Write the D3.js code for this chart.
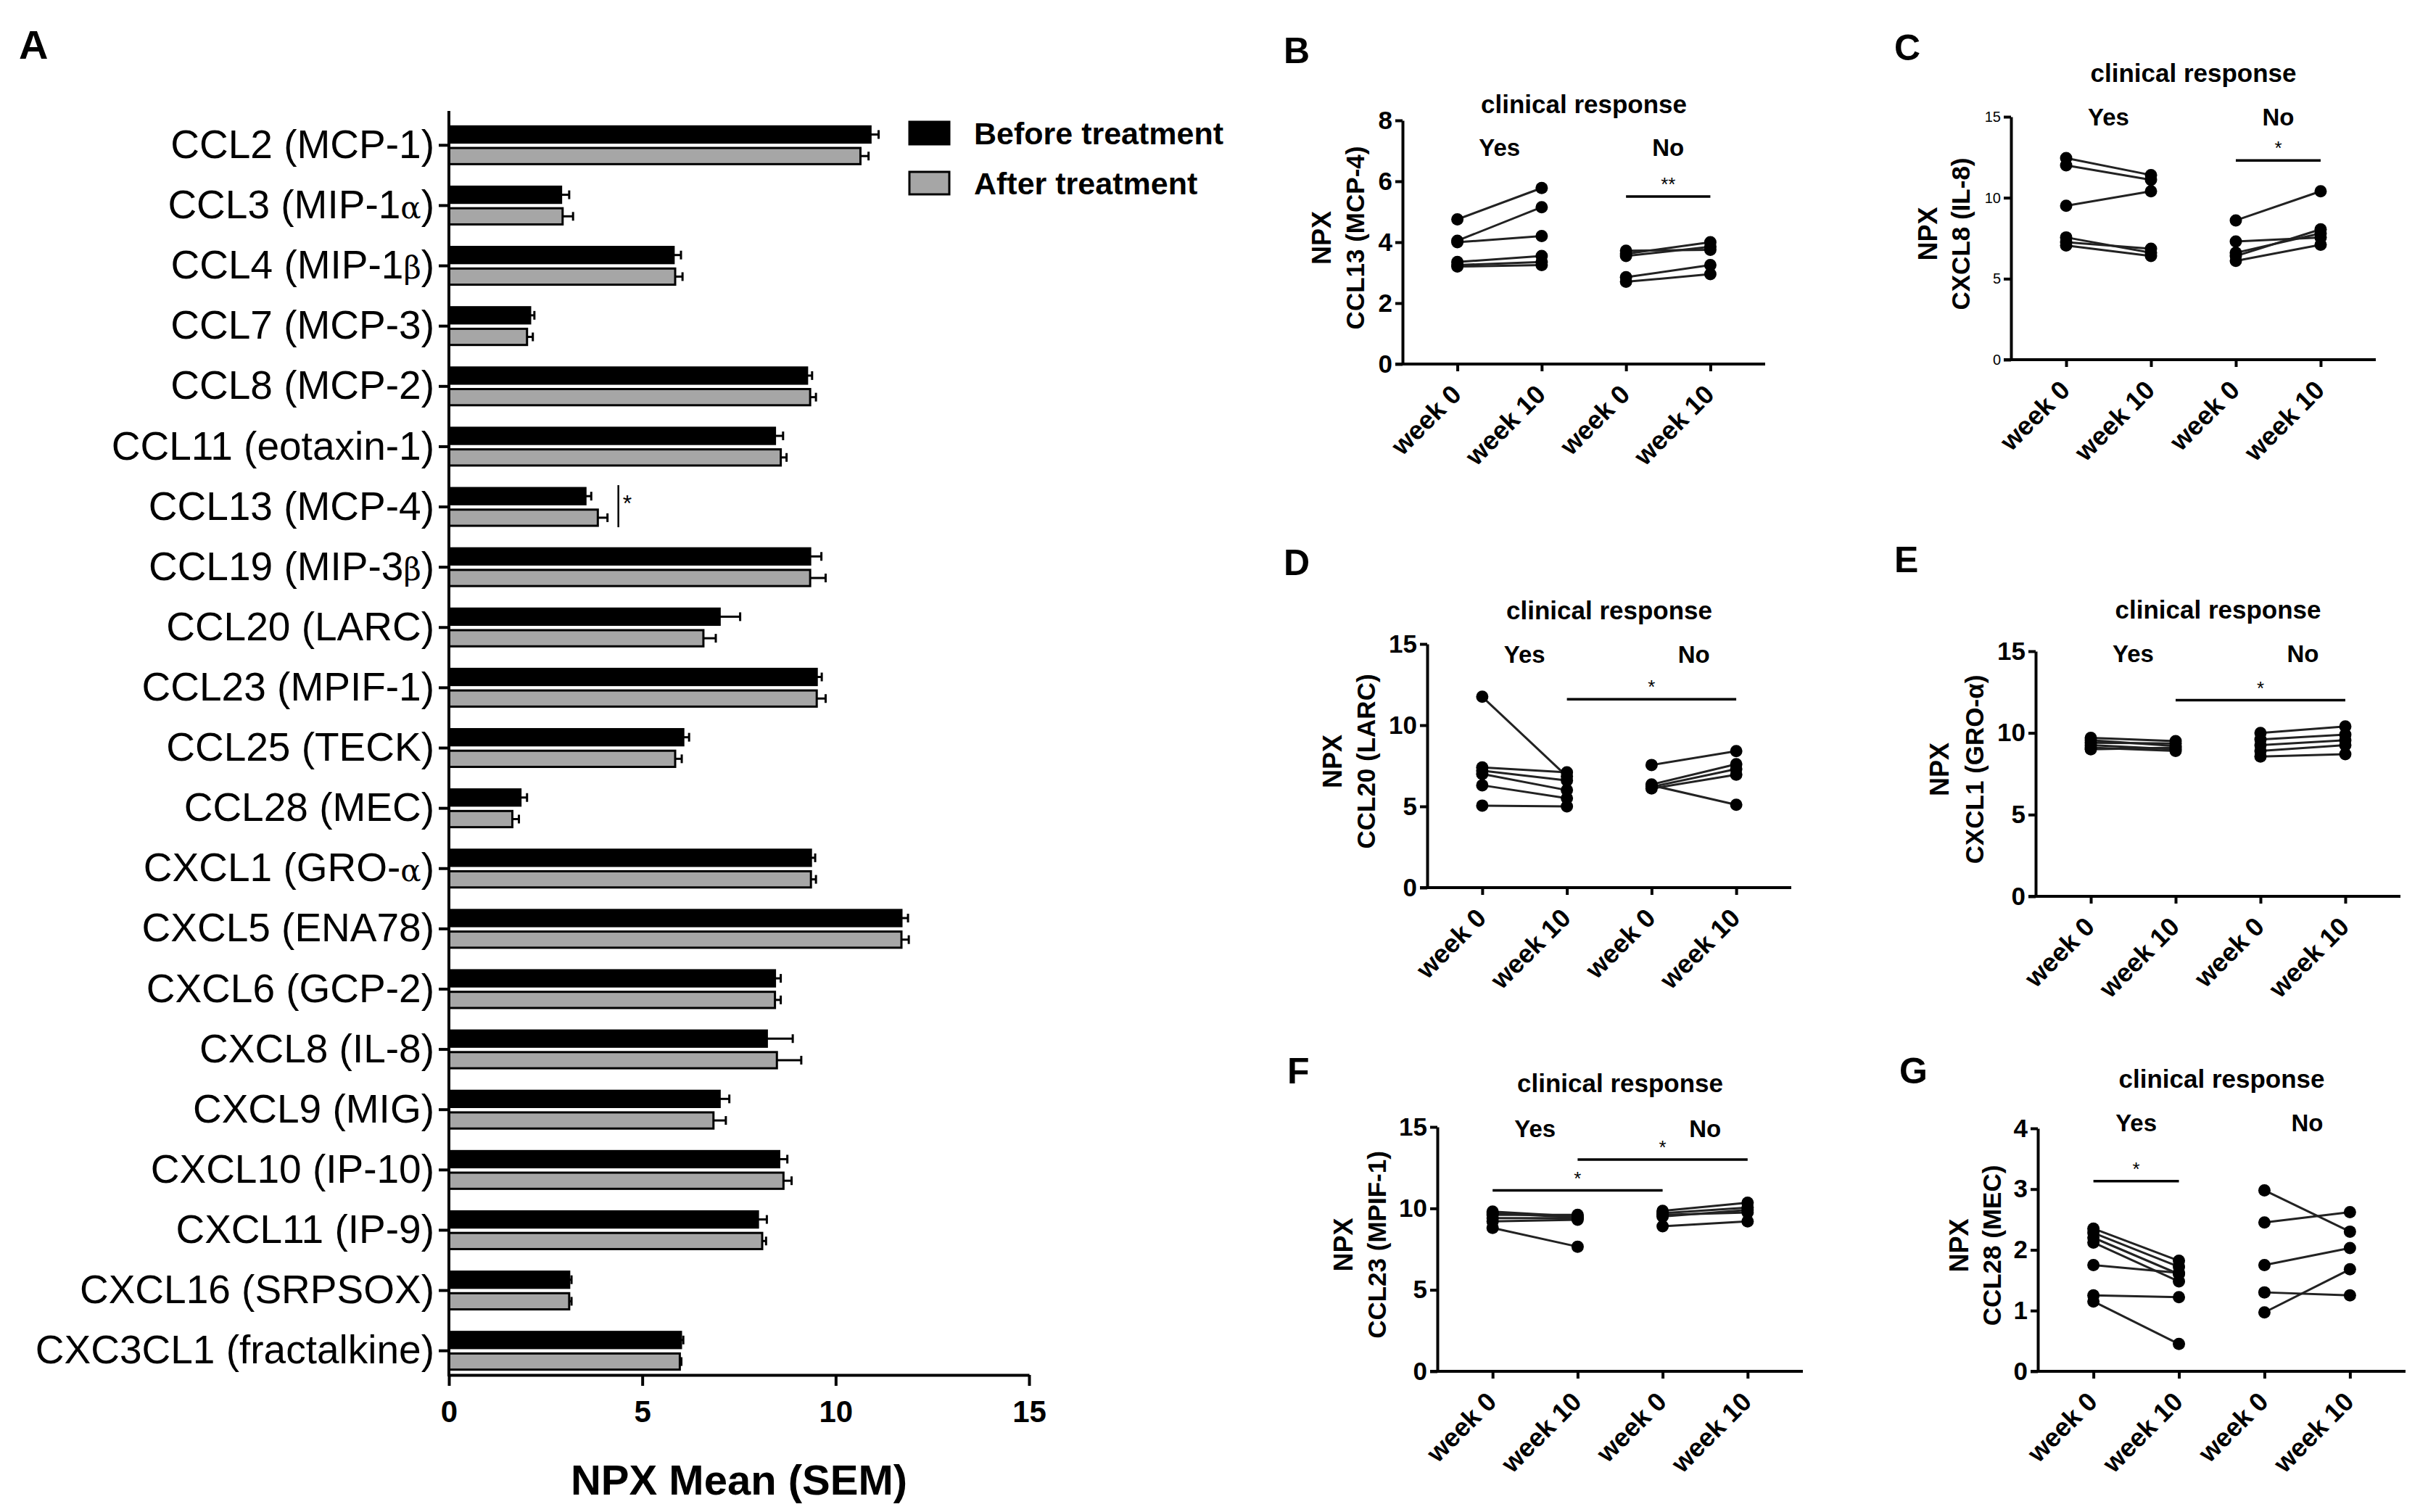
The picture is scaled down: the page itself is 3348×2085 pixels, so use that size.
<!DOCTYPE html>
<html>
<head>
<meta charset="utf-8">
<script src="https://cdnjs.cloudflare.com/ajax/libs/d3/7.8.5/d3.min.js"></script>
<style>
  body { margin: 0; background: #fff; }
  svg { display: block; font-family: "Liberation Sans", Arial, sans-serif; }
</style>
</head>
<body>
<svg id="fig" width="3348" height="2085"></svg>
<script>
// panel A: NPX mean (SEM) before / after treatment
const cytokines = [
    "CCL2 (MCP-1)", "CCL3 (MIP-1α)", "CCL4 (MIP-1β)", "CCL7 (MCP-3)", "CCL8 (MCP-2)",
    "CCL11 (eotaxin-1)", "CCL13 (MCP-4)", "CCL19 (MIP-3β)", "CCL20 (LARC)", "CCL23 (MPIF-1)",
    "CCL25 (TECK)", "CCL28 (MEC)", "CXCL1 (GRO-α)", "CXCL5 (ENA78)", "CXCL6 (GCP-2)",
    "CXCL8 (IL-8)", "CXCL9 (MIG)", "CXCL10 (IP-10)", "CXCL11 (IP-9)", "CXCL16 (SRPSOX)",
    "CXC3CL1 (fractalkine)"
];
const beforeMean = [10.90, 2.90, 5.81, 2.10, 9.26, 8.43, 3.53, 9.34, 7.00, 9.51, 6.06, 1.85, 9.36, 11.70, 8.43, 8.22, 7.00, 8.54, 7.99, 3.11, 6.00];
const beforeSem  = [0.21, 0.21, 0.19, 0.11, 0.13, 0.21, 0.15, 0.29, 0.53, 0.13, 0.15, 0.17, 0.11, 0.17, 0.15, 0.67, 0.25, 0.21, 0.23, 0.06, 0.06];
const afterMean  = [10.64, 2.94, 5.85, 2.02, 9.34, 8.58, 3.85, 9.34, 6.58, 9.51, 5.85, 1.64, 9.36, 11.70, 8.43, 8.48, 6.84, 8.65, 8.10, 3.11, 5.97];
const afterSem   = [0.21, 0.27, 0.19, 0.15, 0.15, 0.15, 0.25, 0.40, 0.32, 0.23, 0.17, 0.17, 0.13, 0.19, 0.15, 0.63, 0.32, 0.21, 0.10, 0.06, 0.04];
const npxTicks = [0, 5, 10, 15];
const legendLabels = ["Before treatment", "After treatment"];
const significantA = ["CCL13 (MCP-4)"];

// panels B-G: paired values, week 0 -> week 10, per clinical response group
const weekLabels = ["week 0", "week 10", "week 0", "week 10"];
const responseGroups = ["Yes", "No"];

const ccl13YesW0  = [4.75, 4.05, 4.00, 3.35, 3.25, 3.20];
const ccl13YesW10 = [5.78, 5.15, 4.20, 3.55, 3.35, 3.25];
const ccl13NoW0   = [3.72, 3.62, 3.55, 2.85, 2.70];
const ccl13NoW10  = [3.75, 4.00, 3.85, 3.25, 2.95];
const ccl13Sig    = [[2, 3, 5.5, "**"]];

const cxcl8YesW0  = [12.45, 12.00, 9.50, 7.55, 7.25, 7.05];
const cxcl8YesW10 = [11.40, 11.10, 10.40, 6.60, 6.85, 6.40];
const cxcl8NoW0   = [8.60, 7.30, 6.60, 6.40, 6.10];
const cxcl8NoW10  = [10.40, 7.55, 7.80, 8.05, 7.10];
const cxcl8Sig    = [[2, 3, 12.3, "*"]];

const ccl20YesW0  = [11.75, 7.40, 7.20, 7.00, 6.30, 5.05];
const ccl20YesW10 = [6.85, 7.10, 6.60, 6.00, 5.50, 5.00];
const ccl20NoW0   = [7.55, 6.35, 6.20, 6.10, 6.30];
const ccl20NoW10  = [8.40, 7.60, 7.30, 6.95, 5.10];
const ccl20Sig    = [[1, 3, 11.6, "*"]];

const cxcl1YesW0  = [9.70, 9.55, 9.40, 9.25, 9.10, 9.00];
const cxcl1YesW10 = [9.50, 9.20, 9.35, 9.00, 8.90, 9.10];
const cxcl1NoW0   = [10.00, 9.60, 9.25, 8.90, 8.55];
const cxcl1NoW10  = [10.40, 9.90, 9.55, 9.25, 8.70];
const cxcl1Sig    = [[1, 3, 12.0, "*"]];

const ccl23YesW0  = [9.80, 9.70, 9.60, 9.40, 9.20, 8.80];
const ccl23YesW10 = [9.50, 9.45, 9.60, 9.40, 9.30, 7.65];
const ccl23NoW0   = [9.85, 9.70, 9.60, 9.50, 8.90];
const ccl23NoW10  = [10.35, 10.05, 9.75, 9.90, 9.20];
const ccl23Sig    = [[0, 2, 11.1, "*"], [1, 3, 13.0, "*"]];

const ccl28YesW0  = [2.35, 2.28, 2.20, 2.12, 1.75, 1.25, 1.15];
const ccl28YesW10 = [1.82, 1.72, 1.60, 1.48, 1.62, 1.22, 0.45];
const ccl28NoW0   = [2.98, 2.45, 1.75, 1.30, 0.97];
const ccl28NoW10  = [2.30, 2.62, 2.03, 1.25, 1.68];
const ccl28Sig    = [[0, 1, 3.13, "*"]];

const svg = d3.select('#fig');
svg.append('rect').attr('width', 3348).attr('height', 2085).attr('fill', '#fff');

// ---------- panel A ----------
const a = { left: 619, right: 1419, top: 153, bottom: 1896 };

const xA = d3.scaleLinear().domain([0, 15]).range([a.left, a.right]);
const yA = d3.scaleBand().domain(cytokines).range([166, 1897]).paddingInner(0.374).paddingOuter(0.1);
const ySub = d3.scaleBand().domain(['before', 'after']).range([0, yA.bandwidth()]).paddingInner(0.25);

const rows = cytokines.map((c, i) => ({
    name: c,
    series: [
        { key: 'before', mean: beforeMean[i], sem: beforeSem[i] },
        { key: 'after', mean: afterMean[i], sem: afterSem[i] }
    ]
}));

const fillOf = { before: '#000', after: '#a6a6a6' };

const rowG = svg.append('g').selectAll('g')
    .data(rows)
    .enter()
    .append('g')
    .attr('transform', d => `translate(0,${yA(d.name)})`);

const barG = rowG.selectAll('g')
    .data(d => d.series)
    .enter()
    .append('g');

barG.append('line')
    .attr('x1', d => xA(d.mean))
    .attr('x2', d => xA(d.mean + d.sem))
    .attr('y1', d => ySub(d.key) + ySub.bandwidth() / 2)
    .attr('y2', d => ySub(d.key) + ySub.bandwidth() / 2)
    .attr('stroke', '#000')
    .attr('stroke-width', 3);

barG.append('line')
    .attr('x1', d => xA(d.mean + d.sem))
    .attr('x2', d => xA(d.mean + d.sem))
    .attr('y1', d => ySub(d.key) + ySub.bandwidth() / 2 - 6)
    .attr('y2', d => ySub(d.key) + ySub.bandwidth() / 2 + 6)
    .attr('stroke', '#000')
    .attr('stroke-width', 3);

barG.append('rect')
    .attr('x', xA(0))
    .attr('y', d => ySub(d.key))
    .attr('width', d => xA(d.mean) - xA(0))
    .attr('height', ySub.bandwidth())
    .attr('fill', d => fillOf[d.key])
    .attr('stroke', '#000')
    .attr('stroke-width', 3);

// significance mark for CCL13
rows.filter(r => significantA.includes(r.name)).forEach(r => {
    const xs = xA(d3.max(r.series, s => s.mean + s.sem)) + 15;
    const y0 = yA(r.name);
    svg.append('line')
        .attr('x1', xs).attr('x2', xs)
        .attr('y1', y0 - 4).attr('y2', y0 + yA.bandwidth() + 2)
        .attr('stroke', '#000').attr('stroke-width', 2.5);
    svg.append('text')
        .attr('x', xs + 6).attr('y', y0 + yA.bandwidth() / 2 + 6)
        .attr('font-size', 32)
        .text('*');
});

// y axis A
const yAxisA = svg.append('g')
    .attr('transform', `translate(${a.left},0)`)
    .call(d3.axisLeft(yA).tickSize(14).tickPadding(6));
yAxisA.select('.domain').remove();
yAxisA.attr('font-family', null).attr('font-size', 55);
yAxisA.selectAll('.tick line').attr('stroke-width', 4);
yAxisA.selectAll('.tick text')
    .attr('fill', '#000')
    .each(function(d) {
        const t = d3.select(this).text('');
        d.split(/([αβ])/).filter(s => s).forEach(part => {
            const sp = t.append('tspan').text(part);
            if (/[αβ]/.test(part)) sp.attr('font-family', 'DejaVu Serif').attr('font-size', 42);
        });
    });

svg.append('line')
    .attr('x1', a.left).attr('x2', a.left)
    .attr('y1', a.top).attr('y2', a.bottom + 2)
    .attr('stroke', '#000').attr('stroke-width', 4);

// x axis A
const xAxisA = svg.append('g')
    .attr('transform', `translate(0,${a.bottom})`)
    .call(d3.axisBottom(xA).tickValues(npxTicks).tickSize(15).tickPadding(20).tickSizeOuter(0));
xAxisA.attr('font-family', null).attr('font-size', 42).attr('font-weight', 'bold');
xAxisA.selectAll('.domain, .tick line').attr('stroke-width', 4);
xAxisA.selectAll('.tick text').attr('fill', '#000');

svg.append('text')
    .attr('x', (a.left + a.right) / 2)
    .attr('y', 2061)
    .attr('text-anchor', 'middle')
    .attr('font-size', 58)
    .attr('font-weight', 'bold')
    .text('NPX Mean (SEM)');

// legend
const legend = svg.append('g').attr('transform', 'translate(1254,168)');
legendLabels.forEach((lab, i) => {
    legend.append('rect')
        .attr('x', 0).attr('y', i * 69)
        .attr('width', 55).attr('height', 31)
        .attr('fill', i === 0 ? fillOf.before : fillOf.after)
        .attr('stroke', '#000').attr('stroke-width', 3);
    legend.append('text')
        .attr('x', 89).attr('y', i * 69 + 16)
        .attr('dominant-baseline', 'central')
        .attr('font-size', 43)
        .attr('font-weight', 'bold')
        .text(lab);
});

svg.append('text')
    .attr('x', 26).attr('y', 81)
    .attr('font-size', 56).attr('font-weight', 'bold')
    .text('A');

// ---------- panels B-G ----------
const panels = [
    { letter: 'B', name: 'CCL13 (MCP-4)', yesW0: ccl13YesW0, yesW10: ccl13YesW10, noW0: ccl13NoW0, noW10: ccl13NoW10, sig: ccl13Sig,
      yMax: 8, yTicks: [0, 2, 4, 6, 8], left: 1934, right: 2434, top: 166, bottom: 502,
      titleY: 143, groupY: 203, letterX: 1770, letterY: 70, npxOff: 112, nameOff: 66, tickFont: 35, tickWeight: 'bold' },
    { letter: 'C', name: 'CXCL8 (IL-8)', yesW0: cxcl8YesW0, yesW10: cxcl8YesW10, noW0: cxcl8NoW0, noW10: cxcl8NoW10, sig: cxcl8Sig,
      yMax: 15, yTicks: [0, 5, 10, 15], left: 2773, right: 3276, top: 161, bottom: 496,
      titleY: 100, groupY: 161, letterX: 2612, letterY: 66, npxOff: 115, nameOff: 70, tickFont: 20, tickWeight: 'normal' },
    { letter: 'D', name: 'CCL20 (LARC)', yesW0: ccl20YesW0, yesW10: ccl20YesW10, noW0: ccl20NoW0, noW10: ccl20NoW10, sig: ccl20Sig,
      yMax: 15, yTicks: [0, 5, 10, 15], left: 1968, right: 2470, top: 888, bottom: 1224,
      titleY: 841, groupY: 902, letterX: 1770, letterY: 776, npxOff: 131, nameOff: 85, tickFont: 35, tickWeight: 'bold' },
    { letter: 'E', name: 'CXCL1 (GRO-α)', yesW0: cxcl1YesW0, yesW10: cxcl1YesW10, noW0: cxcl1NoW0, noW10: cxcl1NoW10, sig: cxcl1Sig,
      yMax: 15, yTicks: [0, 5, 10, 15], left: 2807, right: 3310, top: 898, bottom: 1236,
      titleY: 840, groupY: 901, letterX: 2612, letterY: 772, npxOff: 133, nameOff: 85, tickFont: 35, tickWeight: 'bold' },
    { letter: 'F', name: 'CCL23 (MPIF-1)', yesW0: ccl23YesW0, yesW10: ccl23YesW10, noW0: ccl23NoW0, noW10: ccl23NoW10, sig: ccl23Sig,
      yMax: 15, yTicks: [0, 5, 10, 15], left: 1982, right: 2486, top: 1554, bottom: 1891,
      titleY: 1493, groupY: 1556, letterX: 1775, letterY: 1477, npxOff: 130, nameOff: 84, tickFont: 35, tickWeight: 'bold' },
    { letter: 'G', name: 'CCL28 (MEC)', yesW0: ccl28YesW0, yesW10: ccl28YesW10, noW0: ccl28NoW0, noW10: ccl28NoW10, sig: ccl28Sig,
      yMax: 4, yTicks: [0, 1, 2, 3, 4], left: 2810, right: 3317, top: 1556, bottom: 1891,
      titleY: 1487, groupY: 1548, letterX: 2619, letterY: 1477, npxOff: 109, nameOff: 64, tickFont: 35, tickWeight: 'bold' }
];

function drawPanel(p) {
    const g = svg.append('g');
    const x = d3.scalePoint().domain(d3.range(weekLabels.length)).range([p.left, p.right]).padding(0.65);
    const y = d3.scaleLinear().domain([0, p.yMax]).range([p.bottom, p.top]);

    // y axis
    const yAx = g.append('g')
        .attr('transform', `translate(${p.left},0)`)
        .call(d3.axisLeft(y).tickValues(p.yTicks).tickFormat(d3.format('d'))
            .tickSize(10).tickPadding(4).tickSizeOuter(0));
    yAx.attr('font-family', null).attr('font-size', p.tickFont).attr('font-weight', p.tickWeight);
    yAx.selectAll('.domain, .tick line').attr('stroke-width', 4);
    yAx.selectAll('.tick text').attr('fill', '#000');

    // x axis
    const xAx = g.append('g')
        .attr('transform', `translate(0,${p.bottom})`)
        .call(d3.axisBottom(x).tickSize(10).tickSizeOuter(0).tickFormat(i => weekLabels[i]));
    xAx.select('.domain').remove();
    xAx.attr('font-family', null).attr('font-size', 36).attr('font-weight', 'bold');
    xAx.selectAll('.tick line').attr('stroke-width', 4);
    xAx.selectAll('.tick text')
        .attr('fill', '#000')
        .attr('text-anchor', 'end')
        .attr('x', 7).attr('y', 44).attr('dy', 0)
        .attr('transform', 'rotate(-45,7,44)');
    g.append('line')
        .attr('x1', p.left - 10).attr('x2', p.right)
        .attr('y1', p.bottom).attr('y2', p.bottom)
        .attr('stroke', '#000').attr('stroke-width', 4);

    // paired lines and dots
    const pairs = [];
    p.yesW0.forEach((v, i) => pairs.push({ x0: 0, x1: 1, v0: v, v1: p.yesW10[i] }));
    p.noW0.forEach((v, i) => pairs.push({ x0: 2, x1: 3, v0: v, v1: p.noW10[i] }));

    g.append('g').selectAll('line')
        .data(pairs)
        .enter()
        .append('line')
        .attr('x1', d => x(d.x0)).attr('y1', d => y(d.v0))
        .attr('x2', d => x(d.x1)).attr('y2', d => y(d.v1))
        .attr('stroke', '#222').attr('stroke-width', 3);

    const dots = pairs.flatMap(d => [{ i: d.x0, v: d.v0 }, { i: d.x1, v: d.v1 }]);
    g.append('g').selectAll('circle')
        .data(dots)
        .enter()
        .append('circle')
        .attr('cx', d => x(d.i)).attr('cy', d => y(d.v))
        .attr('r', 8.5)
        .attr('fill', '#000');

    // significance bars
    p.sig.forEach(([i0, i1, v, lab]) => {
        g.append('line')
            .attr('x1', x(i0)).attr('x2', x(i1))
            .attr('y1', y(v)).attr('y2', y(v))
            .attr('stroke', '#000').attr('stroke-width', 3.5);
        g.append('text')
            .attr('x', (x(i0) + x(i1)) / 2).attr('y', y(v) - 8)
            .attr('text-anchor', 'middle')
            .attr('font-size', 26)
            .text(lab);
    });

    // group labels
    responseGroups.forEach((lab, k) => {
        g.append('text')
            .attr('x', (x(2 * k) + x(2 * k + 1)) / 2)
            .attr('y', p.groupY)
            .attr('text-anchor', 'middle')
            .attr('dominant-baseline', 'central')
            .attr('font-size', 33).attr('font-weight', 'bold')
            .text(lab);
    });

    // title
    g.append('text')
        .attr('x', (p.left + p.right) / 2)
        .attr('y', p.titleY)
        .attr('text-anchor', 'middle')
        .attr('dominant-baseline', 'central')
        .attr('font-size', 35).attr('font-weight', 'bold')
        .text('clinical response');

    // y axis titles
    const midY = (p.top + p.bottom) / 2 - 6;
    g.append('text')
        .attr('transform', `translate(${p.left - p.npxOff},${midY}) rotate(-90)`)
        .attr('text-anchor', 'middle').attr('dominant-baseline', 'central')
        .attr('font-size', 36).attr('font-weight', 'bold')
        .text('NPX');
    g.append('text')
        .attr('transform', `translate(${p.left - p.nameOff},${midY}) rotate(-90)`)
        .attr('text-anchor', 'middle').attr('dominant-baseline', 'central')
        .attr('font-size', 35).attr('font-weight', 'bold')
        .text(p.name);

    // panel letter
    g.append('text')
        .attr('x', p.letterX).attr('y', p.letterY)
        .attr('dominant-baseline', 'central')
        .attr('font-size', 50).attr('font-weight', 'bold')
        .text(p.letter);
}

panels.forEach(drawPanel);
</script>
</body>
</html>
